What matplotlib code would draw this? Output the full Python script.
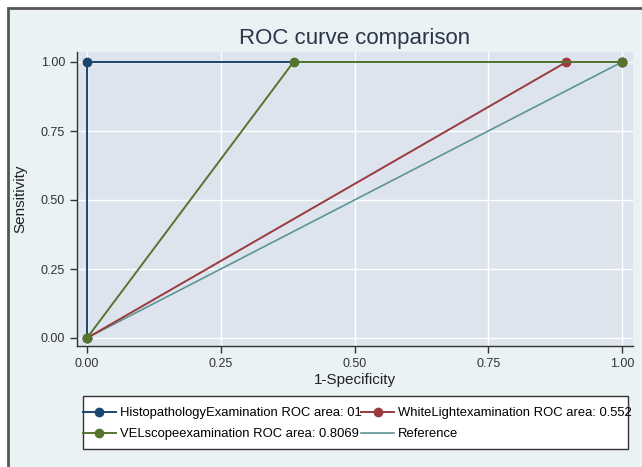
import matplotlib.pyplot as plt
from matplotlib.patches import Rectangle

# ROC points (1-specificity, sensitivity)
histo_x = [0, 0, 1]
histo_y = [0, 1, 1]
white_x = [0, 0.896, 1]
white_y = [0, 1, 1]
vel_x = [0, 0.386, 1]
vel_y = [0, 1, 1]
ref_x = [0, 1]
ref_y = [0, 1]

labels = ["HistopathologyExamination ROC area: 01",
          "WhiteLightexamination ROC area: 0.552",
          "VELscopeexamination ROC area: 0.8069",
          "Reference"]
ticks = [0, 0.25, 0.5, 0.75, 1.0]
tick_labels = ["0.00", "0.25", "0.50", "0.75", "1.00"]

plt.rcParams['font.family'] = ['Liberation Sans', 'DejaVu Sans']

fig = plt.figure(figsize=(6.42, 4.67), dpi=100)
fig.patch.set_facecolor('white')
fig.add_artist(Rectangle((8 / 642, -0.1), 1.2, 1.1 - 8 / 467,
                         transform=fig.transFigure, facecolor='#eaf2f4',
                         edgecolor='#555555', linewidth=2, zorder=-5))

ax = fig.add_axes([77 / 642, 1 - 346 / 467, 556 / 642, 294 / 467])
ax.set_facecolor('#dde4ee')

h4, = ax.plot(ref_x, ref_y, color='#5e9494', lw=1.2, label=labels[3], zorder=2)
h1, = ax.plot(histo_x, histo_y, color='#1a476f', lw=1.4, marker='o', ms=6, label=labels[0], zorder=3)
h2, = ax.plot(white_x, white_y, color='#9a3a3f', lw=1.4, marker='o', ms=6, label=labels[1], zorder=3)
h3, = ax.plot(vel_x, vel_y, color='#55752f', lw=1.4, marker='o', ms=6, label=labels[2], zorder=4)

ax.set_xlim(-10 / 535, 1 + 11 / 535)
ax.set_ylim(-8 / 276, 1 + 10 / 276)
ax.set_xticks(ticks)
ax.set_xticklabels(tick_labels)
ax.set_yticks(ticks)
ax.set_yticklabels(tick_labels)
ax.grid(True, color='white', lw=1)
ax.set_axisbelow(True)
for s in ['top', 'right']:
    ax.spines[s].set_visible(False)
for s in ['left', 'bottom']:
    ax.spines[s].set_color('#333333')
    ax.spines[s].set_linewidth(1)
ax.tick_params(direction='out', length=5, width=1, color='#333333',
               labelsize=9, labelcolor='#333333')

ax.set_title("ROC curve comparison", fontsize=16, color='#2a3648', pad=6)
ax.set_xlabel("1-Specificity", fontsize=11, color='#222222', labelpad=2)
ax.set_ylabel("Sensitivity", fontsize=11, color='#222222', labelpad=10)

# legend frame drawn by hand (Stata-like padding)
fig.add_artist(Rectangle((83 / 642, 1 - 449 / 467), 545 / 642, 53 / 467,
                         transform=fig.transFigure, facecolor='white',
                         edgecolor='#333333', linewidth=1, zorder=1))
leg = fig.legend([h1, h3, h2, h4], [labels[0], labels[2], labels[1], labels[3]],
                 ncol=2, loc='upper left', bbox_to_anchor=(83 / 642, 1 - 407 / 467),
                 fontsize=9.4, frameon=False, handlelength=2.5,
                 handletextpad=0.3, columnspacing=0.0, borderpad=0,
                 labelspacing=0.7, borderaxespad=0)
leg.set_zorder(2)

fig.savefig('out.png', dpi=100, facecolor=fig.get_facecolor())
